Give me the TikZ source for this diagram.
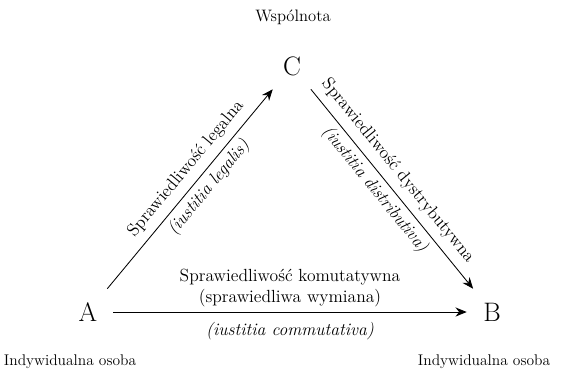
\documentclass[tikz,border=0pt]{standalone}
\usepackage{fontspec}
\usetikzlibrary{positioning,arrows.meta}

\tikzset{
  punkt/.style={minimum width=1.25cm,minimum height=1.15cm,font=\fontsize{19}{21}\selectfont},
  opis/.style={font=\fontsize{12.5}{15}\selectfont},
  podpis/.style={font=\fontsize{11}{13}\selectfont},
  strzalka/.style={-{Stealth[length=8pt,width=6.5pt]},semithick}
}

\begin{document}
\begin{tikzpicture}[x=0.025cm,y=-0.025cm]
\useasboundingbox (0,0) rectangle (564,377);

\node[punkt] (C) at (292,66) {C};
\node[punkt] (A) at (88,312) {A};
\node[punkt] (B) at (492,312) {B};

\node[podpis,font=\fontsize{11.8}{13}\selectfont] (wsp) at (293,17) {Wspólnota};
\node[podpis] (osA) at (70,362) {Indywidualna osoba};
\node[podpis] (osB) at (484,362) {Indywidualna osoba};

\draw[strzalka](A)to node[opis,sloped,above=2pt,pos=0.55] {Sprawiedliwość legalna}
  node[opis,sloped,below,pos=0.55] {\textit{(iustitia legalis)}}(C);
\draw[strzalka](C)to node[opis,sloped,above=2pt,pos=0.46] {Sprawiedliwość dystrybutywna}
  node[opis,sloped,below,pos=0.46] {\textit{(iustitia distributiva)}}(B);
\draw[strzalka](A)to node[opis,above,align=center] {Sprawiedliwość komutatywna\\(sprawiedliwa wymiana)}
  node[opis,below=4pt] {\textit{(iustitia commutativa)}}(B);
\end{tikzpicture}
\end{document}
